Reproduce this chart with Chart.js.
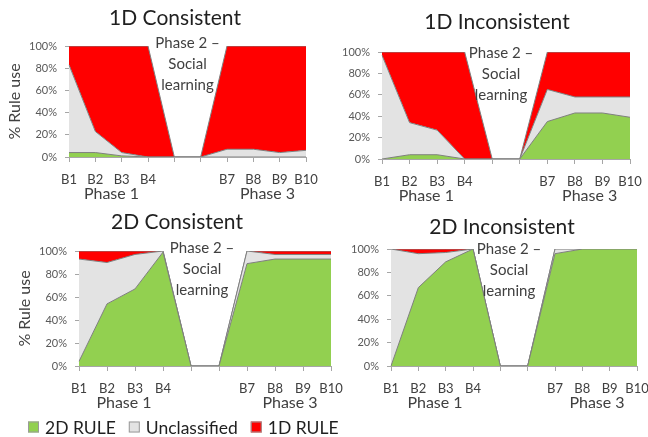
<!DOCTYPE html>
<html>
<head>
<meta charset="utf-8">
<script src="https://cdn.jsdelivr.net/npm/chart.js@4.4.1/dist/chart.umd.min.js"></script>
<style>
  html, body { margin: 0; padding: 0; width: 648px; height: 437px; overflow: hidden; background: #fff; }
  canvas { position: absolute; }
</style>
</head>
<body>
<canvas id="p1"></canvas>
<canvas id="p2"></canvas>
<canvas id="p3"></canvas>
<canvas id="p4"></canvas>
<script>
// Blocks B1..B10; B5 and B6 (social learning phase) carry no rule data
const categories = ['B1', 'B2', 'B3', 'B4', '', '', 'B7', 'B8', 'B9', 'B10'];
const seriesNames = ['2D RULE', 'Unclassified', '1D RULE'];
const yTickValues = [0, 20, 40, 60, 80, 100];
const phaseLabels = ['Phase 1', 'Phase 3'];
const socialLines = ['Phase 2 \u2013', 'Social', 'learning'];

// 1D Consistent (% of participants)
const oneDConsistent2D    = [4, 4, 1, 0, 0, 0, 0, 0, 0, 0];
const oneDConsistentUncl  = [79, 19, 3, 0, 0, 0, 7, 7, 4, 6];
const oneDConsistent1D    = [17, 77, 96, 100, 0, 0, 93, 93, 96, 94];

// 1D Inconsistent
const oneDInconsistent2D   = [0, 4, 4, 0, 0, 0, 35, 43, 43, 39];
const oneDInconsistentUncl = [97, 30, 23, 0, 0, 0, 30, 15, 15, 19];
const oneDInconsistent1D   = [3, 66, 73, 100, 0, 0, 35, 42, 42, 42];

// 2D Consistent
const twoDConsistent2D    = [4, 54, 67, 99, 0, 0, 89, 93, 93, 93];
const twoDConsistentUncl  = [89, 36, 30, 1, 0, 0, 11, 4, 4, 4];
const twoDConsistent1D    = [7, 10, 3, 0, 0, 0, 0, 3, 3, 3];

// 2D Inconsistent
const twoDInconsistent2D   = [0, 67, 89, 100, 0, 0, 96, 100, 100, 100];
const twoDInconsistentUncl = [100, 29, 8, 0, 0, 0, 4, 0, 0, 0];
const twoDInconsistent1D   = [0, 4, 3, 0, 0, 0, 0, 0, 0, 0];

const FONT = 'Lato, "Open Sans", sans-serif';
const COLORS = ['#92D050', '#E3E3E3', '#FF0000'];
const EDGE = '#7f7f7f';
const AXIS = '#a6a6a6';

// Panel frames: canvas box and the plot box inside it (page pixels)
const panels = [
  { id: 'p1', title: '1D Consistent', data: [oneDConsistent2D, oneDConsistentUncl, oneDConsistent1D],
    canvas: { x: 0, y: 0, w: 335, h: 205 }, plot: { l: 69, t: 46, r: 306, b: 157 }, padLeft: 5,
    yTitle: true, titlePos: { x: 175, y: 18 }, socialDx: 0, socialDy: -3 },
  { id: 'p2', title: '1D Inconsistent', data: [oneDInconsistent2D, oneDInconsistentUncl, oneDInconsistent1D],
    canvas: { x: 324, y: 0, w: 335, h: 205 }, plot: { l: 382, t: 52, r: 630, b: 159 }, padLeft: 0,
    yTitle: false, titlePos: { x: 497, y: 22 }, socialDx: -5, socialDy: 1 },
  { id: 'p3', title: '2D Consistent', data: [twoDConsistent2D, twoDConsistentUncl, twoDConsistent1D],
    canvas: { x: 0, y: 205, w: 360, h: 232 }, plot: { l: 79, t: 251, r: 331, b: 366 }, padLeft: 15,
    yTitle: true, titlePos: { x: 177, y: 222 }, socialDx: -3, socialDy: -3, legend: true },
  { id: 'p4', title: '2D Inconsistent', data: [twoDInconsistent2D, twoDInconsistentUncl, twoDInconsistent1D],
    canvas: { x: 330, y: 205, w: 336, h: 205 }, plot: { l: 391, t: 249, r: 637, b: 366 }, padLeft: 0,
    yTitle: false, titlePos: { x: 502, y: 227 }, socialDx: -5, socialDy: 0 }
];

// Titles, phase captions and the social-learning note
const panelText = {
  id: 'panelText',
  afterDraw(chart, args, opts) {
    const p = opts.panel;
    const ctx = chart.ctx;
    const xs = chart.scales.x;
    const area = chart.chartArea;
    const ox = p.canvas.x, oy = p.canvas.y;
    ctx.save();
    ctx.textAlign = 'center';
    ctx.textBaseline = 'middle';
    // title
    ctx.fillStyle = '#1f1f1f';
    ctx.font = '21px ' + FONT;
    ctx.fillText(p.title, p.titlePos.x - ox, p.titlePos.y - oy);
    // phase captions under the axis
    ctx.fillStyle = '#404040';
    ctx.font = '16px ' + FONT;
    ctx.fillText(phaseLabels[0], (xs.getPixelForValue(1) + xs.getPixelForValue(2)) / 2 + 3, area.bottom + 37);
    ctx.fillText(phaseLabels[1], (xs.getPixelForValue(7) + xs.getPixelForValue(8)) / 2 + 1, area.bottom + 37);
    // social learning note between B5 and B6
    ctx.font = '15px ' + FONT;
    const cx = (xs.getPixelForValue(4) + xs.getPixelForValue(5)) / 2 + p.socialDx;
    socialLines.forEach((s, i) => ctx.fillText(s, cx, area.top + p.socialDy + i * 21));
    // shared legend
    if (p.legend) {
      ctx.font = '17.5px ' + FONT;
      ctx.textAlign = 'left';
      let x = 28;
      const cy = 427 - oy;
      seriesNames.forEach((name, i) => {
        ctx.fillStyle = COLORS[i];
        ctx.fillRect(x, cy - 5.5, 11, 11);
        ctx.strokeStyle = '#9a9a9a';
        ctx.lineWidth = 1;
        ctx.strokeRect(x + 0.5, cy - 5, 10, 10);
        x += 17;
        ctx.fillStyle = '#1f1f1f';
        ctx.fillText(name, x, cy + 1);
        x += ctx.measureText(name).width + 13;
      });
    }
    ctx.restore();
  }
};

panels.forEach(p => {
  const cv = document.getElementById(p.id);
  cv.width = p.canvas.w;
  cv.height = p.canvas.h;
  cv.style.left = p.canvas.x + 'px';
  cv.style.top = p.canvas.y + 'px';
  cv.style.width = p.canvas.w + 'px';
  cv.style.height = p.canvas.h + 'px';

  const padTop = p.plot.t - p.canvas.y;
  const padRight = p.canvas.x + p.canvas.w - p.plot.r;
  const yWidth = p.plot.l - p.canvas.x - p.padLeft;
  const xHeight = 48;
  const padBottom = p.canvas.y + p.canvas.h - p.plot.b - xHeight;

  new Chart(cv, {
    type: 'line',
    data: {
      labels: categories,
      datasets: seriesNames.map((name, i) => ({
        label: name,
        data: p.data[i],
        fill: i === 0 ? 'origin' : '-1',
        backgroundColor: COLORS[i],
        borderColor: EDGE,
        borderWidth: 1,
        pointRadius: 0,
        tension: 0
      }))
    },
    options: {
      responsive: false,
      animation: false,
      devicePixelRatio: 1,
      layout: { padding: { left: p.padLeft, top: padTop, right: padRight, bottom: padBottom } },
      plugins: {
        legend: { display: false },
        tooltip: { enabled: false },
        panelText: { panel: p }
      },
      scales: {
        x: {
          offset: false,
          grid: { drawOnChartArea: false, drawTicks: true, tickLength: 5, color: AXIS },
          border: { color: AXIS },
          ticks: { autoSkip: false, maxRotation: 0, padding: 10, color: '#404040', font: { family: FONT, size: 13 } },
          afterFit(scale) { scale.height = xHeight; }
        },
        y: {
          stacked: true,
          min: 0,
          max: 100,
          afterBuildTicks(scale) { scale.ticks = yTickValues.map(v => ({ value: v })); },
          grid: { drawOnChartArea: false, drawTicks: true, tickLength: 4, color: AXIS },
          border: { color: AXIS },
          ticks: { padding: 8, color: '#595959', font: { family: FONT, size: 11 }, callback: v => v + '%' },
          title: { display: p.yTitle, text: '% Rule use', color: '#404040', padding: 0, font: { family: FONT, size: 16 } },
          afterFit(scale) { scale.width = yWidth; }
        }
      }
    },
    plugins: [panelText]
  });
});
</script>
</body>
</html>
